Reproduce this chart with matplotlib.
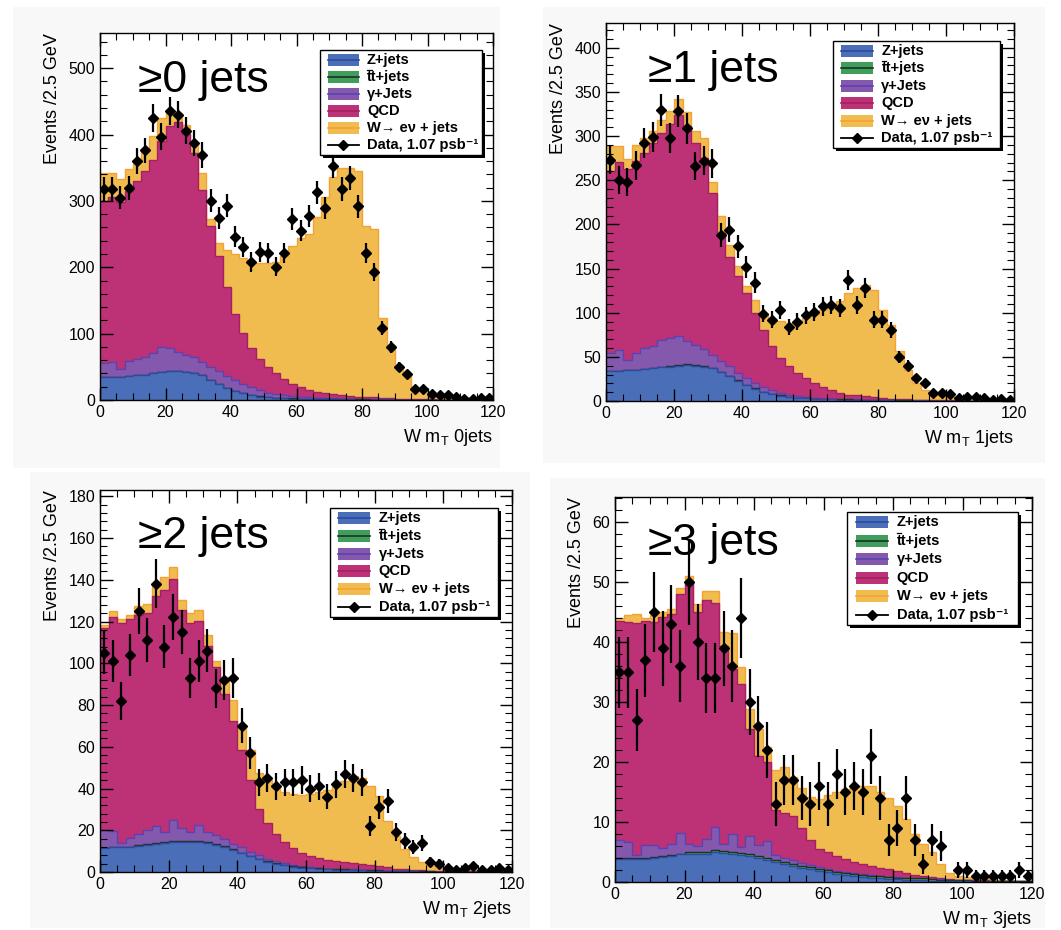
import numpy as np
import matplotlib.pyplot as plt
from matplotlib.patches import Rectangle
from matplotlib.lines import Line2D
from matplotlib.ticker import MultipleLocator

plt.rcParams['font.family'] = ['Liberation Sans', 'DejaVu Sans']
plt.rcParams['mathtext.fontset'] = 'custom'
plt.rcParams['mathtext.rm'] = 'Liberation Sans'
plt.rcParams['mathtext.default'] = 'regular'

# W transverse mass, 48 bins of 2.5 GeV
edges = np.linspace(0, 120, 49)
centers = 0.5 * (edges[:-1] + edges[1:])

# >=0 jets
z_0j = [35, 35, 35, 36, 37, 38, 40, 42, 43, 43, 42, 40, 37, 30, 24, 18, 14, 10, 7, 5,
        4, 3, 2.5, 2, 1.8, 1.5, 1.3, 1.1, 1, 0.9, 0.8, 0.7, 0.6, 0.5, 0.4, 0.3, 0.3, 0.2, 0.2, 0.1,
        0.1, 0.1, 0, 0, 0, 0, 0, 0]
tt_0j = [0.2, 0.2, 0.2, 0.2, 0.3, 0.3, 0.3, 0.3, 0.3, 0.3, 0.3, 0.3, 0.3, 0.3, 0.3, 0.3, 0.3, 0.3, 0.3, 0.3,
         0.3, 0.3, 0.3, 0.3, 0.3, 0.3, 0.3, 0.3, 0.3, 0.3, 0.2, 0.2, 0.2, 0.2, 0.2, 0.2, 0.2, 0.2, 0.2, 0.2,
         0.1, 0.1, 0.1, 0.1, 0.1, 0.1, 0.1, 0.1]
gam_0j = [20, 22, 12, 22, 25, 27, 30, 38, 35, 29, 26, 24, 20, 20, 19, 18, 16, 14, 12, 10,
          7, 5, 4, 3, 2.2, 2, 1.7, 1.4, 1, 0.9, 0.7, 0.6, 0.5, 0.5, 0.4, 0.3, 0.2, 0.2, 0.1, 0.1,
          0.1, 0, 0, 0, 0, 0, 0, 0]
qcd_0j = [245, 248, 251, 257, 268, 280, 292, 310, 334, 346, 332, 308, 259, 212, 173, 134, 100, 76, 59, 47,
          39, 32, 24.5, 19, 15, 11.5, 9, 7.5, 6, 5.2, 4.5, 3.7, 3.4, 3, 2.2, 1.9, 1.5, 1.1, 0.7, 0.8,
          0.6, 0.5, 0.4, 0.3, 0.3, 0.3, 0.2, 0.2]
w_0j = [42, 37, 35, 33, 32, 33, 36, 35, 25, 14, 14, 14, 25, 10, 20, 56, 90, 114, 130, 144,
        156, 167, 185, 208, 225, 235, 263, 295, 327, 343, 344, 340, 257, 254, 120, 80, 50, 38, 17, 14,
        9, 7, 5.5, 4.6, 3.7, 2.7, 2.3, 1.8]
data_0j = [318, 318, 305, 320, 360, 376, 425, 397, 435, 430, 406, 387, 369, 300, 274, 293, 246, 231, 208, 223,
           222, 201, 221, 273, 255, 277, 313, 289, 353, 318, 334, 292, 221, 193, 108, 80, 50, 39, 16, 16,
           9, 7, 7, 5, 2, 2, 3, 3]

# >=1 jets
z_1j = [34, 34, 35, 35, 36, 37, 38, 39, 40, 41, 40, 39, 37, 33, 28, 23, 18, 14, 10, 8,
        6, 4.5, 3.5, 3, 2.5, 2, 2, 1.5, 1.5, 1.2, 1, 1, 0.8, 0.7, 0.5, 0.4, 0.3, 0.3, 0.2, 0.2,
        0.1, 0.1, 0, 0, 0, 0, 0, 0]
tt_1j = [0.2, 0.2, 0.2, 0.3, 0.3, 0.3, 0.3, 0.3, 0.4, 0.4, 0.4, 0.4, 0.4, 0.4, 0.4, 0.4, 0.4, 0.4, 0.3, 0.3,
         0.3, 0.3, 0.3, 0.3, 0.3, 0.3, 0.3, 0.3, 0.3, 0.3, 0.2, 0.2, 0.2, 0.2, 0.2, 0.2, 0.2, 0.2, 0.1, 0.1,
         0.1, 0.1, 0.1, 0.1, 0.1, 0.1, 0.1, 0.1]
gam_1j = [20, 24, 11, 19, 24, 25, 31, 32, 33, 26, 23, 19, 15, 12, 11, 8, 8, 6, 5, 4,
          3, 2.5, 1.5, 1, 0.6, 0.5, 0.4, 0.3, 0.3, 0.2, 0.2, 0.2, 0.1, 0.1, 0.1, 0.1, 0.1, 0.1, 0.1, 0,
          0, 0, 0, 0, 0, 0, 0, 0]
qcd_1j = [206, 212, 216, 217, 220, 230, 234, 242, 250, 244, 229, 217, 183, 145, 124, 110, 96, 79, 65, 50,
          39, 32, 26, 22, 17, 13.5, 9.6, 7.2, 5.2, 4.6, 3.8, 2.8, 2.1, 1.7, 1.4, 1, 0.8, 0.6, 0.5, 0.4,
          0.4, 0.3, 0.3, 0.3, 0.2, 0.2, 0.2, 0.2]
w_1j = [28, 18, 12, 19, 17, 13, 15, 15, 18, 16, 13, 22, 13, 19, 13, 11, 8, 15, 18, 31,
        42, 49, 59, 68, 78, 87, 95, 104, 115, 122, 126, 121, 100, 83.5, 54, 33.5, 18.8, 11, 6.2, 4.4,
        3.5, 2.6, 1.7, 1.7, 1.3, 0.8, 0.8, 0.8]
data_1j = [273, 250, 248, 267, 292, 299, 329, 298, 328, 309, 266, 272, 269, 188, 194, 175, 152, 134, 99, 92,
           103, 84, 90, 97, 101, 107, 109, 105, 137, 109, 128, 92, 92, 80, 50, 40, 26, 20, 9, 9,
           8, 3, 4, 4, 3, 1, 2, 1]

# >=2 jets
z_2j = [11.5, 12, 12, 12, 12.5, 13, 13.5, 14, 14.5, 14.5, 14.5, 14.5, 14, 13, 12, 10.5, 9, 7.5, 6, 5,
        4, 3.2, 2.6, 2.1, 1.8, 1.5, 1.3, 1.1, 1, 0.9, 0.8, 0.7, 0.6, 0.5, 0.4, 0.3, 0.25, 0.2, 0.15, 0.1,
        0.1, 0.1, 0.05, 0.05, 0, 0, 0, 0]
tt_2j = [0.1, 0.1, 0.1, 0.1, 0.2, 0.2, 0.2, 0.2, 0.2, 0.3, 0.3, 0.3, 0.3, 0.3, 0.3, 0.3, 0.3, 0.3, 0.3, 0.3,
         0.3, 0.3, 0.3, 0.2, 0.2, 0.2, 0.2, 0.2, 0.2, 0.2, 0.2, 0.2, 0.2, 0.2, 0.1, 0.1, 0.1, 0.1, 0.1, 0.1,
         0.1, 0.1, 0.05, 0.05, 0.05, 0.05, 0.05, 0.05]
gam_2j = [8.5, 7.5, 2, 4, 5.5, 7, 8.5, 5, 10, 6.5, 4.5, 7.5, 5, 4.5, 3.5, 2.5, 2.5, 2, 2, 1,
          1, 0.8, 0.4, 0.4, 0.2, 0.1, 0.1, 0.1, 0.1, 0.1, 0, 0, 0, 0, 0, 0, 0, 0, 0, 0,
          0, 0, 0, 0, 0, 0, 0, 0]
qcd_2j = [97, 102.5, 105, 105, 105, 104, 110, 116, 115.5, 104, 100, 98, 89, 80.5, 69.5, 59, 46.5, 34.5, 22, 17,
          13, 10, 8, 6.5, 5.5, 4.9, 4.1, 3.8, 3.4, 3, 2.7, 2.3, 1.9, 1.5, 1.1, 0.9, 0.75, 0.6, 0.45, 0.4,
          0.3, 0.2, 0.25, 0.15, 0.2, 0.2, 0.2, 0.2]
w_2j = [1, 3, 2, 2, 4, 4, 5, 6, 6, 5, 5, 5, 5, 3, 8, 10, 12, 14, 17, 21,
        22, 24, 26, 27.5, 29.5, 31.5, 33.5, 36, 39, 42, 41.5, 38, 33.5, 22, 15.5, 9.8, 6, 3.7, 2.4, 1.5,
        1.2, 1, 0.8, 0.8, 0.6, 0.4, 0.3, 0.3]
data_2j = [105, 101, 82, 104, 125, 111, 138, 108, 122, 115, 93, 101, 106, 88, 92, 93, 70, 57, 43, 45,
           41, 43, 43, 44, 40, 41, 36, 42, 47, 45, 43, 22, 31, 34, 19, 15, 12, 14, 5, 4,
           2, 1, 2, 3, 1, 1, 2, 1]

# >=3 jets
z_3j = [3.8, 3.8, 3.8, 3.9, 4.0, 4.2, 4.4, 4.6, 4.7, 4.7, 4.7, 5.0, 4.9, 4.7, 4.5, 4.3, 4.0, 3.7, 3.4, 3.0,
        2.7, 2.4, 2.1, 1.8, 1.6, 1.3, 1.1, 0.95, 0.8, 0.7, 0.6, 0.5, 0.45, 0.4, 0.35, 0.3, 0.25, 0.2, 0.15, 0.1,
        0.1, 0.08, 0.06, 0.05, 0.04, 0.03, 0.02, 0.02]
tt_3j = [0.15, 0.15, 0.15, 0.15, 0.15, 0.15, 0.15, 0.15, 0.3, 0.3, 0.3, 0.3, 0.3, 0.3, 0.3, 0.3, 0.3, 0.3, 0.3, 0.3,
         0.3, 0.35, 0.35, 0.35, 0.35, 0.35, 0.35, 0.35, 0.35, 0.35, 0.35, 0.3, 0.3, 0.3, 0.3, 0.3, 0.2, 0.2, 0.2, 0.2,
         0.2, 0.1, 0.1, 0.1, 0.1, 0.1, 0.1, 0.1]
gam_3j = [3.05, 2.75, 0.55, 2.15, 2.05, 1.35, 1.85, 3.45, 1.3, 1.0, 2.2, 3.9, 1.2, 3.0, 1.0, 3.0, 1.9, 2.8, 0.8, 0.7,
          0.6, 0.5, 0.4, 0.35, 0.3, 0.25, 0.2, 0.2, 0.15, 0.15, 0.1, 0.1, 0.05, 0.05, 0.05, 0.05, 0.05, 0.05, 0.05, 0,
          0, 0, 0, 0, 0, 0, 0, 0]
qcd_3j = [36.6, 36.6, 38.7, 37.4, 37.1, 38.5, 38.3, 39.8, 43.4, 39, 39.8, 37.4, 33, 27.6, 27.2, 17.9, 14.8, 13.2, 7.5, 7.5,
          7.4, 5.75, 4.15, 3, 2.75, 2.5, 2.15, 1.9, 1.7, 1.5, 1.35, 1.2, 1.0, 0.75, 0.5, 0.35, 0.3, 0.15, 0.1, 0.1,
          0.1, 0.1, 0.1, 0.1, 0.1, 0.1, 0.1, 0.1]
w_3j = [0.4, 1.2, 1.5, 0.4, 1.2, 0.8, 0.8, 1, 1.3, 1.4, 1.6, 2, 2.3, 5.9, 2.8, 3.4, 4.5, 2.5, 6.6, 7.7,
        6.5, 6.6, 7.2, 8.4, 9.5, 10.6, 11.7, 12.6, 13, 13.3, 12.6, 11.9, 10.8, 9, 6.8, 5.4, 4.2, 2.4, 1, 0.6,
        0.5, 0.4, 0.3, 0.2, 0.1, 0.1, 0, 0]
data_3j = [35, 35, 27, 37, 45, 39, 43, 36, 50, 40, 34, 34, 39, 36, 44, 30, 26, 22, 13, 17,
           17, 14, 13, 16, 13, 18, 15, 16, 15, 21, 14, 7, 9, 14, 7, 3, 7, 6, 0, 2,
           2, 1, 1, 1, 1, 1, 2, 1]

labels = ['Z+jets', 'tt+jets', '\u03b3+Jets', 'QCD', 'W\u2192 e\u03bd + jets']
fills = ['#4a6fb8', '#3f9e5c', '#8459ad', '#bd3176', '#f0bc4f']
lines = ['#2c4a9e', '#1c3320', '#5a43b0', '#a52062', '#f5a235']

W, H = 1061, 930
fig = plt.figure(figsize=(W / 100, H / 100), dpi=100)
fig.patch.set_facecolor('white')


def fbox(x0, y0, x1, y1):
    # pixel box (top-left origin) -> figure fraction rect
    return [x0 / W, 1 - y1 / H, (x1 - x0) / W, (y1 - y0) / H]


# light grey slide backgrounds behind each plot
for b in [(13, 7, 500, 468), (543, 7, 1045, 463), (30, 472, 530, 928), (550, 478, 1045, 928)]:
    r = fbox(*b)
    fig.add_artist(Rectangle((r[0], r[1]), r[2], r[3], transform=fig.transFigure,
                             facecolor='#f8f8f8', edgecolor='none', zorder=-5))


def draw_legend(x0, y0, x1, y1):
    r = fbox(x0, y0, x1, y1)
    fig.add_artist(Rectangle((r[0] + 3 / W, r[1] - 3 / H), r[2], r[3], transform=fig.transFigure,
                             facecolor='black', edgecolor='none', zorder=10))
    fig.add_artist(Rectangle((r[0], r[1]), r[2], r[3], transform=fig.transFigure,
                             facecolor='white', edgecolor='black', lw=1, zorder=11))
    w = x1 - x0
    rows = np.linspace(y0 + 10, y1 - 10, 6)
    pl, pr, tx = x0 + 0.05 * w, x0 + 0.24 * w, x0 + 0.29 * w
    for i, yc in enumerate(rows):
        if i < 5:
            rr = fbox(pl, yc - 6, pr, yc + 6)
            fig.add_artist(Rectangle((rr[0], rr[1]), rr[2], rr[3], transform=fig.transFigure,
                                     facecolor=fills[i], edgecolor='none', zorder=12))
            fig.add_artist(Line2D([pl / W, pr / W], [1 - yc / H] * 2, transform=fig.transFigure,
                                  color=lines[i], lw=1.2, zorder=13))
            txt = labels[i]
        else:
            fig.add_artist(Line2D([pl / W, pr / W], [1 - yc / H] * 2, transform=fig.transFigure,
                                  color='black', lw=1.3, zorder=13))
            fig.add_artist(Line2D([(pl + pr) / 2 / W], [1 - yc / H], transform=fig.transFigure,
                                  marker='D', ms=5, color='black', zorder=14))
            txt = 'Data, 1.07 psb\u207b\u00b9'
        fig.text(tx / W, 1 - yc / H, txt, fontsize=10.5, fontweight='bold', va='center', ha='left', zorder=14)
        if i == 1:
            # bar over the first t of "tt"
            fig.add_artist(Line2D([(tx + 0.5) / W, (tx + 4.8) / W], [1 - (yc - 7.2) / H] * 2,
                                  transform=fig.transFigure, color='black', lw=0.9, zorder=14))


def draw_panel(box, comps, data, ytop, major, minor, xlabel, tag, tag_xy, leg):
    ax = fig.add_axes(fbox(*box))
    levels = np.cumsum(np.array(comps, dtype=float), axis=0)
    for k in range(len(levels) - 1, -1, -1):
        ax.stairs(levels[k], edges, baseline=0, fill=True, facecolor=fills[k], zorder=1 + (4 - k) * 0.01)
        ax.stairs(levels[k], edges, baseline=None, color=lines[k], lw=1.0, zorder=1.005 + (4 - k) * 0.01)
    d = np.array(data, dtype=float)
    m = d > 0
    ax.errorbar(centers[m], d[m], yerr=np.sqrt(d[m]), fmt='D', ms=4.8, color='black',
                ecolor='black', elinewidth=1.6, capsize=0, zorder=3)
    ax.set_xlim(0, 120)
    ax.set_ylim(0, ytop)
    ax.xaxis.set_major_locator(MultipleLocator(20))
    ax.xaxis.set_minor_locator(MultipleLocator(5))
    ax.yaxis.set_major_locator(MultipleLocator(major))
    ax.yaxis.set_minor_locator(MultipleLocator(minor))
    ax.tick_params(which='both', direction='in', top=True, right=True, labelsize=11.5)
    ax.tick_params(which='major', length=9, width=1)
    ax.tick_params(which='minor', length=5, width=0.8)
    for s in ax.spines.values():
        s.set_linewidth(1)
    ax.set_ylabel('Events /2.5 GeV', loc='top', fontsize=13, labelpad=5)
    ax.set_xlabel(xlabel, loc='right', fontsize=13, labelpad=5)
    fig.text(tag_xy[0] / W, 1 - tag_xy[1] / H, tag, fontsize=32, ha='left', va='baseline', zorder=5)
    draw_legend(*leg)
    return ax


draw_panel((100, 33, 493, 400), [z_0j, tt_0j, gam_0j, qcd_0j, w_0j], data_0j, 553, 100, 20,
           'W m$_T$ 0jets', '\u22650 jets', (138, 92), (320, 50, 482, 155))
draw_panel((606, 23, 1014, 401), [z_1j, tt_1j, gam_1j, qcd_1j, w_1j], data_1j, 428, 50, 10,
           'W m$_T$ 1jets', '\u22651 jets', (648, 82), (833, 41, 1000, 148))
draw_panel((100, 490, 512, 872), [z_2j, tt_2j, gam_2j, qcd_2j, w_2j], data_2j, 183, 20, 4,
           'W m$_T$ 2jets', '\u22652 jets', (138, 548), (330, 508, 498, 617))
draw_panel((615, 497, 1032, 882), [z_3j, tt_3j, gam_3j, qcd_3j, w_3j], data_3j, 64.2, 10, 2,
           'W m$_T$ 3jets', '\u22653 jets', (648, 555), (847, 512, 1018, 625))

fig.savefig('out.png', dpi=100)
